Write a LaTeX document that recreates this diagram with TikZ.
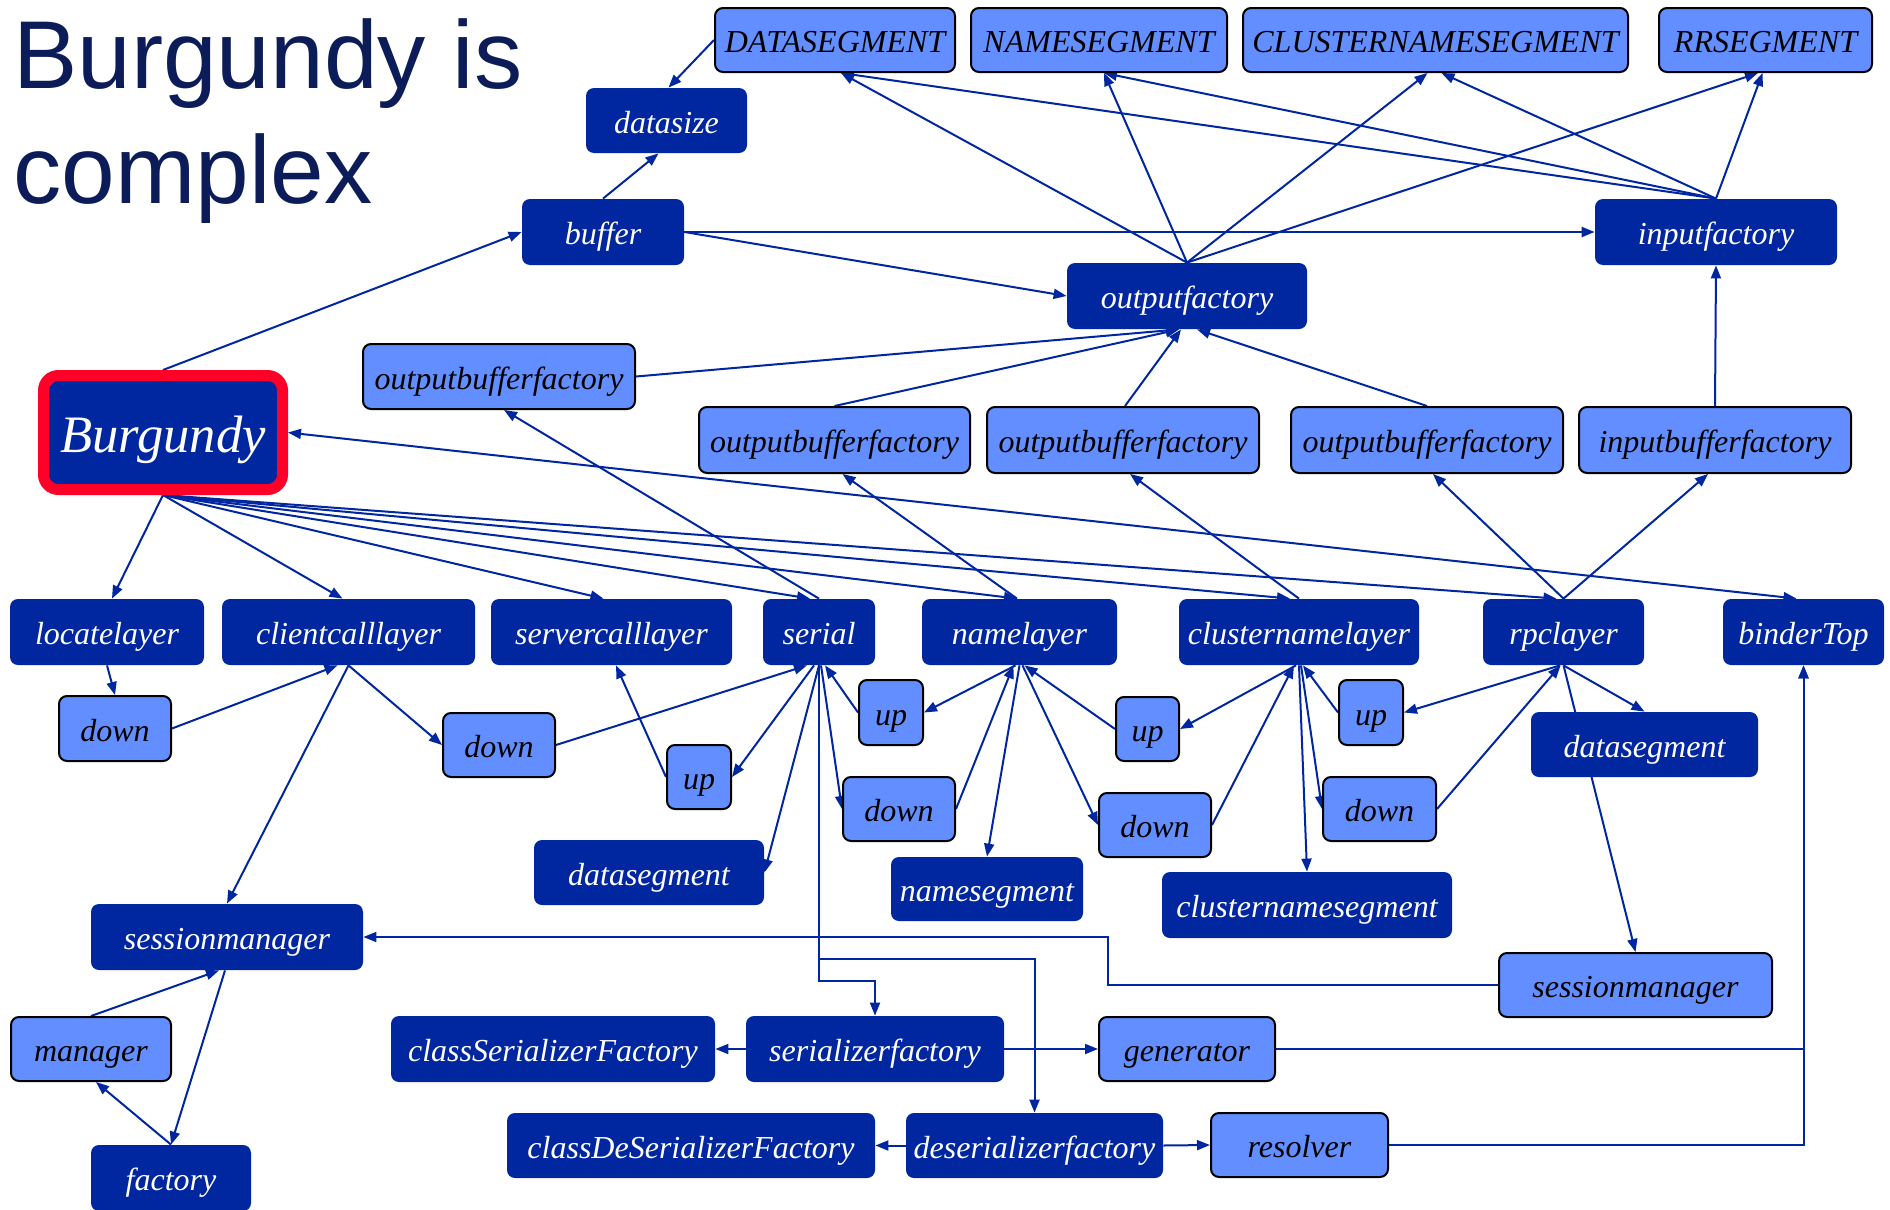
\documentclass[tikz,border=0pt]{standalone}
\usepackage{fontspec}
\setmainfont{Liberation Serif}
\newfontfamily\headfont{Liberation Sans}
\usetikzlibrary{arrows.meta,calc,backgrounds}

\definecolor{boxdark}{RGB}{0,38,160}
\definecolor{boxlight}{RGB}{98,142,255}
\definecolor{wire}{RGB}{0,38,160}
\definecolor{alert}{RGB}{255,0,40}
\definecolor{headink}{RGB}{12,28,88}

% box by its corners: name, style, x1, y1, x2, y2, label
\newcommand\bx[7]{%
  \node[#2, minimum width={(#5-#3)/2}, minimum height={(#6-#4)/2}] (#1)
    at ({(#3+#5)/2},{(#4+#6)/2}) {#7};}

\tikzset{
  lbl/.style={inner sep=0pt, rounded corners=4pt,
    font=\itshape\fontsize{16}{19}\selectfont,
    text height=14pt, text depth=1.5pt},
  darkbox/.style={lbl, fill=boxdark, text=white},
  lightbox/.style={lbl, fill=boxlight, draw=black, line width=1pt, text=black},
  tip/.tip={Triangle[length=6.5pt,width=5pt]},
  wireto/.style={draw=wire, line width=1pt, -tip},
}

\begin{document}
\begin{tikzpicture}[x=0.5pt,y=-0.5pt]
\useasboundingbox (0,0) rectangle (1890,1210);

% heading
\node[anchor=base west, inner sep=0pt, text=headink,
  font=\headfont\fontsize{48.2}{57}\selectfont] (head1) at (13,88) {Burgundy is};
\node[anchor=base west, inner sep=0pt, text=headink,
  font=\headfont\fontsize{48.2}{57}\selectfont] (head2) at (13,203) {complex};

% segment row
\bx{DSEG}{lightbox}{715}{8}{955}{72}{DATASEGMENT}
\bx{NSEG}{lightbox}{971}{8}{1227}{72}{NAMESEGMENT}
\bx{CSEG}{lightbox}{1243}{8}{1628}{72}{CLUSTERNAMESEGMENT}
\bx{RSEG}{lightbox}{1659}{8}{1872}{72}{RRSEGMENT}

% factories
\bx{datasize}{darkbox}{586}{88}{747}{153}{datasize}
\bx{buffer}{darkbox}{522}{199}{684}{265}{buffer}
\bx{inf}{darkbox}{1595}{199}{1837}{265}{inputfactory}
\bx{outf}{darkbox}{1067}{263}{1307}{329}{outputfactory}
\bx{obfA}{lightbox}{363}{344}{635}{409}{outputbufferfactory}
\bx{obfB}{lightbox}{699}{407}{970}{473}{outputbufferfactory}
\bx{obfC}{lightbox}{987}{407}{1259}{473}{outputbufferfactory}
\bx{obfD}{lightbox}{1291}{407}{1563}{473}{outputbufferfactory}
\bx{ibf}{lightbox}{1579}{407}{1851}{473}{inputbufferfactory}

% root
\node[darkbox, draw=alert, line width=5.5pt, rounded corners=7.5pt,
  font=\itshape\fontsize{26.3}{30}\selectfont, text height=22pt, text depth=2.5pt,
  minimum width=119.5pt, minimum height=57pt] (Burg) at (163,432.5) {Burgundy};

% layers
\bx{locl}{darkbox}{10}{599}{204}{665}{locatelayer}
\bx{ccl}{darkbox}{222}{599}{475}{665}{clientcalllayer}
\bx{scl}{darkbox}{491}{599}{732}{665}{servercalllayer}
\bx{serial}{darkbox}{763}{599}{875}{665}{serial}
\bx{namel}{darkbox}{922}{599}{1117}{665}{namelayer}
\bx{cnl}{darkbox}{1179}{599}{1419}{665}{clusternamelayer}
\bx{rpc}{darkbox}{1483}{599}{1644}{665}{rpclayer}
\bx{binder}{darkbox}{1723}{599}{1884}{665}{binderTop}

% up / down links
\bx{downL}{lightbox}{59}{696}{171}{761}{down}
\bx{downCC}{lightbox}{443}{713}{555}{777}{down}
\bx{upSC}{lightbox}{667}{745}{731}{809}{up}
\bx{upSer}{lightbox}{859}{680}{923}{745}{up}
\bx{downSer}{lightbox}{843}{777}{955}{841}{down}
\bx{upNm}{lightbox}{1116}{697}{1179}{761}{up}
\bx{downNm}{lightbox}{1099}{793}{1211}{857}{down}
\bx{upCn}{lightbox}{1339}{680}{1403}{745}{up}
\bx{downCn}{lightbox}{1323}{777}{1436}{841}{down}

% segments and managers
\bx{dsegL}{darkbox}{534}{840}{764}{905}{datasegment}
\bx{nseg}{darkbox}{891}{857}{1083}{921}{namesegment}
\bx{cnseg}{darkbox}{1162}{872}{1452}{938}{clusternamesegment}
\bx{dsegR}{darkbox}{1531}{712}{1758}{777}{datasegment}
\bx{smL}{darkbox}{91}{904}{363}{970}{sessionmanager}
\bx{smR}{lightbox}{1499}{953}{1772}{1017}{sessionmanager}
\bx{mgr}{lightbox}{11}{1017}{171}{1081}{manager}
\bx{fac}{darkbox}{91}{1145}{251}{1211}{factory}

% serialisation
\bx{csf}{darkbox}{391}{1016}{715}{1082}{classSerializerFactory}
\bx{cdsf}{darkbox}{507}{1113}{875}{1178}{classDeSerializerFactory}
\bx{serf}{darkbox}{746}{1016}{1004}{1082}{serializerfactory}
\bx{gen}{lightbox}{1099}{1017}{1275}{1081}{generator}
\bx{desf}{darkbox}{906}{1113}{1163}{1178}{deserializerfactory}
\bx{res}{lightbox}{1211}{1113}{1388}{1177}{resolver}

\begin{pgfonlayer}{background}
\fill[white] (0,0) rectangle (1890,1210);

% upper block
\draw[wireto] (DSEG.west) -- ($(datasize.north)+(2,0)$);
\draw[wireto] (buffer.north) -- ($(datasize.south)+(-8,0)$);
\draw[wireto] (Burg.north) -- (buffer.west);
\draw[wireto] (buffer.east) -- (inf.west);
\draw[wireto] (buffer.east) -- (outf.west);
\foreach \t/\dx in {DSEG/6,NSEG/5,CSEG/-8,RSEG/-7.5}
  \draw[wireto] (outf.north) -- ($(\t.south)+(\dx,0)$);
\foreach \t/\dx in {DSEG/6,NSEG/5,CSEG/6,RSEG/-3}
  \draw[wireto] (inf.north) -- ($(\t.south)+(\dx,0)$);
\draw[wireto] (ibf.north) -- (inf.south);
\draw[wireto] (obfA.east) -- ($(outf.south)+(-8,0)$);
\draw[wireto] (obfB.north) -- ($(outf.south)+(-8,0)$);
\draw[wireto] ($(obfC.north)+(2,0)$) -- ($(outf.south)+(-6,0)$);
\draw[wireto] (obfD.north) -- ($(outf.south)+(10,0)$);
\draw[wireto] (serial.north) -- ($(obfA.south)+(5,0)$);
\draw[wireto] ($(namel.north)+(-2.5,0)$) -- ($(obfB.south)+(8,0)$);
\draw[wireto] (cnl.north) -- ($(obfC.south)+(7,0)$);
\draw[wireto] (rpc.north) -- ($(obfD.south)+(6,0)$);
\draw[wireto] (rpc.north) -- ($(ibf.south)+(-7,0)$);

% root fan-out
\draw[wireto] (Burg.south) -- ($(locl.north)+(5,0)$);
\draw[wireto] (Burg.south) -- ($(ccl.north)+(-6,0)$);
\draw[wireto] (Burg.south) -- ($(scl.north)+(-8,0)$);
\draw[wireto] (Burg.south) -- ($(serial.north)+(-9,0)$);
\draw[wireto] (Burg.south) -- ($(namel.north)+(-2.5,0)$);
\draw[wireto] (Burg.south) -- ($(cnl.north)+(-9,0)$);
\draw[wireto] (Burg.south) -- ($(rpc.north)+(-7,0)$);
\draw[wireto, tip-tip] (Burg.east) -- ($(binder.north)+(-7,0)$);

% layer stack
\draw[wireto] (locl.south) -- (downL.north);
\draw[wireto] (downL.east) -- ($(ccl.south)+(-11,0)$);
\draw[wireto] (ccl.south) -- (downCC.west);
\draw[wireto] (ccl.south) -- (smL.north);
\draw[wireto] (downCC.east) -- ($(serial.south)+(-12,0)$);
\draw[wireto] (upSC.west) -- ($(scl.south)+(4.5,0)$);
\draw[wireto] ($(serial.south)+(-5,0)$) -- (upSC.east);
\draw[wireto] (serial.south) -- (dsegL.east);
\draw[wireto] (upSer.west) -- ($(serial.south)+(6,0)$);
\draw[wireto] ($(serial.south)+(2,0)$) -- (downSer.west);
\draw[wireto] (downSer.east) -- ($(namel.south)+(-6,0)$);
\draw[wireto] ($(namel.south)+(-4,0)$) -- (upSer.east);
\draw[wireto] (namel.south) -- (nseg.north);
\draw[wireto] ($(namel.south)+(3,0)$) -- (downNm.west);
\draw[wireto] (upNm.west) -- ($(namel.south)+(5,0)$);
\draw[wireto] ($(cnl.south)+(-3,0)$) -- (upNm.east);
\draw[wireto] (downNm.east) -- ($(cnl.south)+(-5,0)$);
\draw[wireto] ($(cnl.south)+(2,0)$) -- (downCn.west);
\draw[wireto] (upCn.west) -- ($(cnl.south)+(4,0)$);
\draw[wireto] (cnl.south) -- (cnseg.north);
\draw[wireto] ($(rpc.south)+(-3.5,0)$) -- (upCn.east);
\draw[wireto] (downCn.east) -- ($(rpc.south)+(-3,0)$);
\draw[wireto] (rpc.south) -- (dsegR.north);
\draw[wireto] (rpc.south) -- (smR.north);
\draw[wireto] (smR.west) -- ++(-390,0) |- (smL.east);

% serialisation paths
\draw[wireto] (serial.south) -- ++(0,316) -| (serf.north);
\draw[wireto] (serial.south) -- ++(0,294) -| (desf.north);
\draw[wireto] (serf.west) -- (csf.east);
\draw[wireto] (serf.east) -- (gen.west);
\draw[wireto] (desf.west) -- (cdsf.east);
\draw[wireto] (desf.east) -- (res.west);
\draw[wireto] (gen.east) -| (binder.south);
\draw[wireto] (res.east) -| (binder.south);

% session manager
\draw[wireto] (mgr.north) -- ($(smL.south)+(-8,0)$);
\draw[wireto] ($(smL.south)+(-2,0)$) -- (fac.north);
\draw[wireto] (fac.north) -- ($(mgr.south)+(5,0)$);
\end{pgfonlayer}
\end{tikzpicture}
\end{document}
